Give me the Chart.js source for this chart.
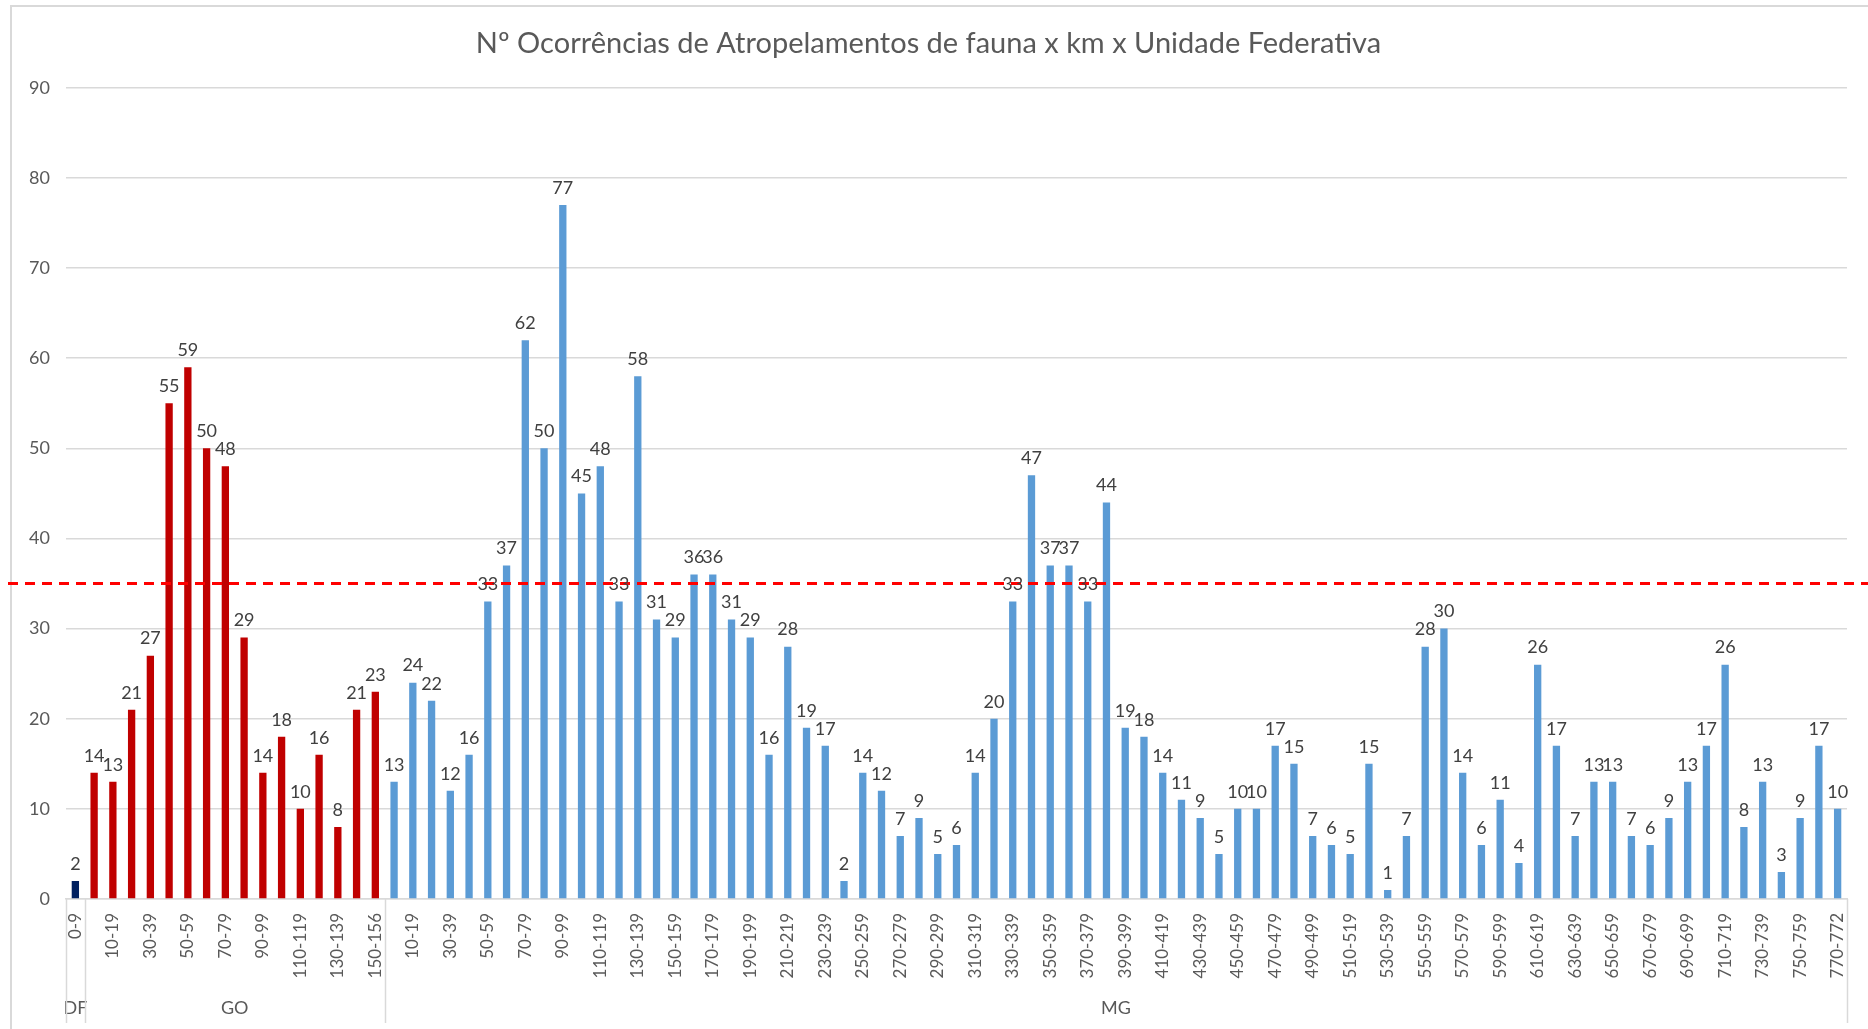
<!DOCTYPE html>
<html>
<head>
<meta charset="utf-8">
<script src="https://cdn.jsdelivr.net/npm/chart.js@4.4.0/dist/chart.umd.min.js"></script>
<style>
html, body { margin: 0; padding: 0; background: #ffffff; overflow: hidden; }
#wrap { position: relative; width: 1868px; height: 1029px; }
</style>
</head>
<body>
<div id="wrap"><canvas id="myChart" width="1868" height="1029"></canvas></div>
<script>
'use strict';

var chartTitle = 'Nº Ocorrências de Atropelamentos de fauna x km x Unidade Federativa';

// one block of km per state
var dfKm = ['0-9'];
var dfValues = [2];

var goKm = ['0-9','10-19','20-29','30-39','40-49','50-59','60-69','70-79','80-89','90-99',
            '100-109','110-119','120-129','130-139','140-149','150-156'];
var goValues = [14,13,21,27,55,59,50,48,29,14,18,10,16,8,21,23];

var mgKm = ['0-9','10-19','20-29','30-39','40-49','50-59','60-69','70-79','80-89','90-99',
            '100-109','110-119','120-129','130-139','140-149','150-159','160-169','170-179','180-189','190-199',
            '200-209','210-219','220-229','230-239','240-249','250-259','260-269','270-279','280-289','290-299',
            '300-309','310-319','320-329','330-339','340-349','350-359','360-369','370-379','380-389','390-399',
            '400-409','410-419','420-429','430-439','440-449','450-459','460-469','470-479','480-489','490-499',
            '500-509','510-519','520-529','530-539','540-549','550-559','560-569','570-579','580-589','590-599',
            '600-609','610-619','620-629','630-639','640-649','650-659','660-669','670-679','680-689','690-699',
            '700-709','710-719','720-729','730-739','740-749','750-759','760-769','770-772'];
var mgValues = [13,24,22,12,16,33,37,62,50,77,
                45,48,33,58,31,29,36,36,31,29,
                16,28,19,17,2,14,12,7,9,5,
                6,14,20,33,47,37,37,33,44,19,
                18,14,11,9,5,10,10,17,15,7,
                6,5,15,1,7,28,30,14,6,11,
                4,26,17,7,13,13,7,6,9,13,
                17,26,8,13,3,9,17,10];

var stateNames = ['DF','GO','MG'];
var stateColors = ['#002060','#C00000','#5B9BD5'];

var yMin = 0;
var yMax = 90;
var yStep = 10;
var limitValue = 35;

var textColor = '#595959';
var gridColor = '#D9D9D9';
var fontName = "Lato, 'Open Sans', sans-serif";

// build the flat lists chart.js wants
var allLabels = [];
var allValues = [];
var allColors = [];
var groups = [];
var blocks = [[dfKm, dfValues], [goKm, goValues], [mgKm, mgValues]];
for (var g = 0; g < blocks.length; g++) {
    var start = allLabels.length;
    for (var i = 0; i < blocks[g][0].length; i++) {
        allLabels.push(blocks[g][0][i]);
        allValues.push(blocks[g][1][i]);
        allColors.push(stateColors[g]);
    }
    groups.push({ name: stateNames[g], first: start, last: allLabels.length - 1 });
}

Chart.defaults.font.family = fontName;
Chart.defaults.color = textColor;

// white page + thin frame like the excel chart area
var framePlugin = {
    id: 'frame',
    beforeDraw: function (chart) {
        var ctx = chart.ctx;
        ctx.save();
        ctx.fillStyle = '#ffffff';
        ctx.fillRect(0, 0, chart.width, chart.height);
        ctx.strokeStyle = gridColor;
        ctx.lineWidth = 2;
        ctx.strokeRect(11, 6, chart.width, chart.height);
        ctx.restore();
    }
};

// DF / GO / MG under the km labels
var groupPlugin = {
    id: 'groupAxis',
    afterDraw: function (chart) {
        var ctx = chart.ctx;
        var x = chart.scales.x;
        var area = chart.chartArea;
        var half = (x.getPixelForValue(1) - x.getPixelForValue(0)) / 2;
        var bottom = chart.height - 6;
        ctx.save();
        ctx.strokeStyle = gridColor;
        ctx.lineWidth = 1.5;
        var edges = [];
        for (var k = 0; k < groups.length; k++) {
            var left = x.getPixelForValue(groups[k].first) - half;
            var right = x.getPixelForValue(groups[k].last) + half;
            edges.push(left);
            if (k === groups.length - 1) edges.push(right);
            ctx.fillStyle = textColor;
            ctx.font = '18px ' + fontName;
            ctx.textAlign = 'center';
            ctx.textBaseline = 'middle';
            ctx.fillText(groups[k].name, (left + right) / 2, bottom - 15);
        }
        for (var e = 0; e < edges.length; e++) {
            ctx.beginPath();
            ctx.moveTo(Math.round(edges[e]) + 0.5, area.bottom);
            ctx.lineTo(Math.round(edges[e]) + 0.5, bottom);
            ctx.stroke();
        }
        ctx.restore();
    }
};

// red dashed reference line
var limitPlugin = {
    id: 'limitLine',
    afterDatasetsDraw: function (chart) {
        var ctx = chart.ctx;
        var y = chart.scales.y.getPixelForValue(limitValue);
        ctx.save();
        ctx.strokeStyle = '#FF0000';
        ctx.lineWidth = 3;
        ctx.setLineDash([10, 7]);
        ctx.beginPath();
        ctx.moveTo(8, y);
        ctx.lineTo(chart.width, y);
        ctx.stroke();
        ctx.restore();
    }
};

// value on top of each bar
var valuesPlugin = {
    id: 'barValues',
    afterDatasetsDraw: function (chart) {
        var ctx = chart.ctx;
        var meta = chart.getDatasetMeta(0);
        ctx.save();
        ctx.fillStyle = '#404040';
        ctx.font = '18px ' + fontName;
        ctx.textAlign = 'center';
        ctx.textBaseline = 'bottom';
        meta.data.forEach(function (bar, idx) {
            ctx.fillText(String(allValues[idx]), bar.x, bar.y - 8);
        });
        ctx.restore();
    }
};

var ctx = document.getElementById('myChart').getContext('2d');
var chart = new Chart(ctx, {
    type: 'bar',
    data: {
        labels: allLabels,
        datasets: [{
            label: 'Ocorrências',
            data: allValues,
            backgroundColor: allColors,
            borderWidth: 0,
            barPercentage: 0.78,
            categoryPercentage: 0.5
        }]
    },
    options: {
        responsive: false,
        animation: false,
        devicePixelRatio: 1,
        layout: { padding: { left: 10, right: 21, top: 0, bottom: 0 } },
        plugins: {
            legend: { display: false },
            tooltip: { enabled: false },
            title: {
                display: true,
                text: chartTitle,
                color: textColor,
                font: { size: 29, weight: 'normal' },
                padding: { top: 26, bottom: 27 }
            }
        },
        scales: {
            x: {
                grid: { display: false },
                border: { display: true, color: gridColor, width: 1.5 },
                ticks: {
                    autoSkip: false,
                    maxRotation: 90,
                    minRotation: 90,
                    padding: 6,
                    color: textColor,
                    font: { size: 17 },
                    callback: function (val, idx) {
                        return idx % 2 === 0 ? allLabels[idx] : '';
                    }
                },
                afterFit: function (scale) { scale.height = 130; }
            },
            y: {
                min: yMin,
                max: yMax,
                grid: { color: gridColor, lineWidth: 1.5, drawTicks: false },
                border: { display: false },
                ticks: {
                    stepSize: yStep,
                    padding: 16,
                    color: textColor,
                    font: { size: 18 }
                },
                afterFit: function (scale) { scale.width = 56; }
            }
        }
    },
    plugins: [framePlugin, groupPlugin, limitPlugin, valuesPlugin]
});
</script>
</body>
</html>
